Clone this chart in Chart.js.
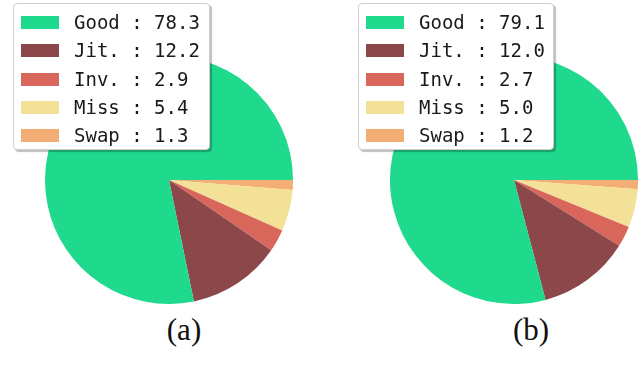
<!DOCTYPE html>
<html>
<head>
<meta charset="utf-8">
<script src="https://cdn.jsdelivr.net/npm/chart.js@4"></script>
<style>
  html, body { margin: 0; padding: 0; background: #fff; }
  #wrap { position: relative; width: 640px; height: 379px; overflow: hidden; }
  .pie { position: absolute; top: 55px; width: 250px; height: 250px; }
  .legend {
    position: absolute; top: 3px; height: 145px; background: #fff;
    border: 1px solid #cfcfcf; border-radius: 4px;
    box-shadow: 2px 2px 1px rgba(0,0,0,0.25);
    font-family: "DejaVu Sans Mono", monospace; font-size: 19px; color: #1a1a1a;
  }
  .legend .row { position: absolute; left: 0; height: 28px; line-height: 28px; white-space: pre; }
  .legend .sw { position: absolute; left: 7px; top: 8px; width: 38px; height: 13px; }
  .legend .tx { position: absolute; left: 60px; top: 0; }
  .cap { position: absolute; top: 312px; font-family: "Liberation Serif", "Times New Roman", serif; font-size: 31px; color: #111; transform: translateX(-50%); }
</style>
</head>
<body>
<div id="wrap">
  <canvas id="pieA" class="pie" width="250" height="250" style="left:44px"></canvas>
  <canvas id="pieB" class="pie" width="250" height="250" style="left:389px"></canvas>
  <div id="legA" class="legend" style="left:13px; width:195px"></div>
  <div id="legB" class="legend" style="left:358px; width:194px"></div>
  <div class="cap" style="left:184px">(a)</div>
  <div class="cap" style="left:531px">(b)</div>
</div>
<script>
// categories and values (percent)
const categories = ['Good', 'Jit.', 'Inv.', 'Miss', 'Swap'];
const valuesA = [78.3, 12.2, 2.9, 5.4, 1.3];
const valuesB = [79.1, 12.0, 2.7, 5.0, 1.2];
const colors = ['#1fd98d', '#8b4749', '#d9665b', '#f2e196', '#f2ae74'];

// matplotlib draws counter-clockwise from 3 o'clock; Chart.js goes clockwise,
// so feed the slices in reverse order starting at 90 degrees
function makePie(id, values) {
  new Chart(document.getElementById(id), {
    type: 'pie',
    data: {
      labels: categories.slice().reverse(),
      datasets: [{
        data: values.slice().reverse(),
        backgroundColor: colors.slice().reverse(),
        borderWidth: 0
      }]
    },
    options: {
      responsive: false,
      animation: false,
      rotation: 90,
      layout: { padding: 1 },
      plugins: { legend: { display: false }, tooltip: { enabled: false } }
    }
  });
}

function makeLegend(id, values) {
  const leg = document.getElementById(id);
  leg.innerHTML = categories.map((c, i) => `
    <div class="row" style="top:${4 + i * 28.3}px">
      <span class="sw" style="background:${colors[i]}"></span>
      <span class="tx">${c.padEnd(4)} : ${values[i].toFixed(1)}</span>
    </div>
  `).join('');
}

window.onload = () => {
  makePie('pieA', valuesA);
  makePie('pieB', valuesB);
  makeLegend('legA', valuesA);
  makeLegend('legB', valuesB);
};
</script>
</body>
</html>
